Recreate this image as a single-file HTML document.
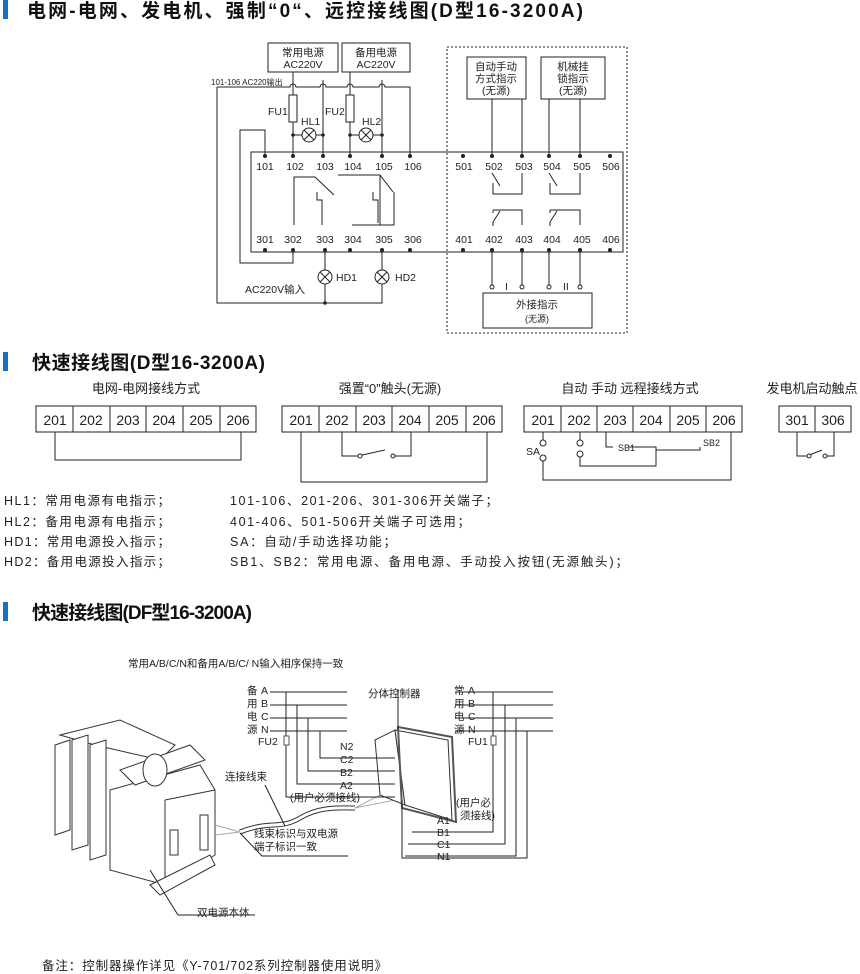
<!DOCTYPE html>
<html><head><meta charset="utf-8"><style>
html,body{margin:0;padding:0;background:#fff}
svg{display:block}
text{font-family:"Liberation Sans","Noto Sans CJK SC",sans-serif;fill:#222}
.h{font-size:19px;font-weight:bold;fill:#111}
.s{font-size:10.5px}
.m{font-size:13px}
.n{font-size:14px}
.l{stroke:#222;stroke-width:1;fill:none}
</style></head><body>
<svg width="860" height="974" viewBox="0 0 860 974" xmlns="http://www.w3.org/2000/svg">
<rect x="3" y="0" width="5" height="19" fill="#1a6fc0"/>
<text class="h" x="27" y="17" textLength="556" lengthAdjust="spacing">电网-电网、发电机、强制“0“、远控接线图(D型16-3200A)</text>

<g class="l">
<rect x="268" y="43" width="70" height="29"/>
<rect x="342" y="43" width="68" height="29"/>
<rect x="251" y="152" width="372" height="100"/>
<rect x="447" y="47" width="180" height="286" stroke-dasharray="2,2"/>
<rect x="467" y="57" width="59" height="42" fill="#fff"/>
<rect x="541" y="57" width="64" height="42" fill="#fff"/>
<rect x="483" y="293" width="109" height="35" fill="#fff"/>
<path d="M217 87 H290 a3 3 0 0 1 6 0 H320 a3 3 0 0 1 6 0 H347 a3 3 0 0 1 6 0 H379 a3 3 0 0 1 6 0 H410 V156"/>
<path d="M217 87 V303 H382 V284"/>
<path d="M325 303 V284"/>
<path d="M265 156 V130 H240 V263 H293 V250"/>
<path d="M293 72 V95 M293 122 V156 M323 80 V156 M350 72 V95 M350 122 V156 M382 80 V156"/>
<rect x="289" y="95" width="8" height="27" fill="#fff"/>
<rect x="346" y="95" width="8" height="27" fill="#fff"/>
<path d="M293 135 H302 M316 135 H323 M350 135 H359 M373 135 H382"/>
<circle cx="309" cy="135" r="7" fill="#fff"/><path d="M304 130 L314 140 M314 130 L304 140"/>
<circle cx="366" cy="135" r="7" fill="#fff"/><path d="M361 130 L371 140 M371 130 L361 140"/>
<path d="M325 250 V270 M382 250 V270"/>
<circle cx="325" cy="277" r="7" fill="#fff"/><path d="M320 272 L330 282 M330 272 L320 282"/>
<circle cx="382" cy="277" r="7" fill="#fff"/><path d="M377 272 L387 282 M387 272 L377 282"/>
<path d="M294 225 V177 H315 L334 195 M338 175 H380 L393 192 M317 192 V200 H322 V225 M373 192 V200 H378 V223 M352 225 H394 V192 M380 175 V225"/>
<path d="M492 99 V156 M522 99 V156 M549 99 V156 M580 99 V156"/>
<path d="M492 173 L500 186 M493 183 V194 H522 V173 M549 173 L557 186 M550 183 V194 H580 V173"/>
<path d="M493 210 H522 V225 M493 210 V213 M493 222 L500 211 M493 222 V226 M550 210 H580 V225 M550 210 V213 M550 222 L557 211 M550 222 V226"/>
<path d="M492 250 V285 M522 250 V285 M549 250 V285 M580 250 V285"/>
</g>
<g fill="#fff" stroke="#222"><circle cx="492" cy="287" r="2"/><circle cx="522" cy="287" r="2"/><circle cx="549" cy="287" r="2"/><circle cx="580" cy="287" r="2"/></g>
<text class="s" x="505" y="290">I</text><text class="s" x="563" y="290">II</text>
<g fill="#222">
<circle cx="265" cy="156" r="2"/><circle cx="293" cy="156" r="2"/><circle cx="323" cy="156" r="2"/><circle cx="350" cy="156" r="2"/><circle cx="382" cy="156" r="2"/><circle cx="410" cy="156" r="2"/>
<circle cx="463" cy="156" r="2"/><circle cx="492" cy="156" r="2"/><circle cx="522" cy="156" r="2"/><circle cx="549" cy="156" r="2"/><circle cx="580" cy="156" r="2"/><circle cx="610" cy="156" r="2"/>
<circle cx="265" cy="250" r="2"/><circle cx="293" cy="250" r="2"/><circle cx="325" cy="250" r="2"/><circle cx="350" cy="250" r="2"/><circle cx="382" cy="250" r="2"/><circle cx="410" cy="250" r="2"/>
<circle cx="463" cy="250" r="2"/><circle cx="492" cy="250" r="2"/><circle cx="522" cy="250" r="2"/><circle cx="549" cy="250" r="2"/><circle cx="580" cy="250" r="2"/><circle cx="610" cy="250" r="2"/>
<circle cx="293" cy="135" r="1.8"/><circle cx="323" cy="135" r="1.8"/><circle cx="350" cy="135" r="1.8"/><circle cx="382" cy="135" r="1.8"/><circle cx="325" cy="303" r="1.8"/>
</g>
<g class="s" text-anchor="middle">
<text x="265" y="170">101</text><text x="295" y="170">102</text><text x="325" y="170">103</text><text x="353" y="170">104</text><text x="384" y="170">105</text><text x="413" y="170">106</text>
<text x="464" y="170">501</text><text x="494" y="170">502</text><text x="524" y="170">503</text><text x="552" y="170">504</text><text x="582" y="170">505</text><text x="611" y="170">506</text>
<text x="265" y="243">301</text><text x="293" y="243">302</text><text x="325" y="243">303</text><text x="353" y="243">304</text><text x="384" y="243">305</text><text x="413" y="243">306</text>
<text x="464" y="243">401</text><text x="494" y="243">402</text><text x="524" y="243">403</text><text x="552" y="243">404</text><text x="582" y="243">405</text><text x="611" y="243">406</text>
<text x="303" y="56">常用电源</text><text x="303" y="68">AC220V</text>
<text x="376" y="56">备用电源</text><text x="376" y="68">AC220V</text>
<text x="496" y="70">自动手动</text><text x="496" y="82">方式指示</text><text x="496" y="94">(无源)</text>
<text x="573" y="70">机械挂</text><text x="573" y="82">锁指示</text><text x="573" y="94">(无源)</text>
<text x="537" y="308">外接指示</text><text x="537" y="322" style="font-size:9px">(无源)</text>
</g>
<text x="211" y="85" style="font-size:8px">101-106 AC220输出</text>
<text class="s" x="268" y="115">FU1</text><text class="s" x="325" y="115">FU2</text>
<text class="s" x="301" y="125">HL1</text><text class="s" x="362" y="125">HL2</text>
<text class="s" x="336" y="281">HD1</text><text class="s" x="395" y="281">HD2</text>
<text class="s" x="245" y="293">AC220V输入</text>

<rect x="3" y="352" width="5" height="19" fill="#1a6fc0"/>
<text class="h" x="32" y="369" textLength="233" lengthAdjust="spacing">快速接线图(D型16-3200A)</text>
<g class="m" text-anchor="middle">
<text x="146" y="393">电网-电网接线方式</text>
<text x="390" y="393">强置“0”触头(无源)</text>
<text x="630" y="393">自动 手动 远程接线方式</text>
<text x="812" y="393">发电机启动触点</text>
</g>
<g class="l">
<rect x="36" y="406" width="220" height="26"/><path d="M73 406V432M110 406V432M146 406V432M183 406V432M220 406V432"/>
<rect x="282" y="406" width="220" height="26"/><path d="M319 406V432M356 406V432M392 406V432M429 406V432M466 406V432"/>
<rect x="524" y="406" width="218" height="26"/><path d="M561 406V432M597 406V432M633 406V432M670 406V432M706 406V432"/>
<rect x="779" y="406" width="72" height="26"/><path d="M815 406V432"/>
<path d="M55 432V460H241V432"/>
<path d="M301 432V482H487V432"/>
<path d="M342 432V456H358 L385 450 M395 456H411V432"/>
<path d="M543 432V440 M543 461V480H731V432"/>
<path d="M580 432V440 M580 456V466H656V450H700V447 M606 432V447H613 M629 447H656V450"/>
<path d="M797 432V456H807 L822 450 M827 456H834V432"/>
</g>
<g fill="#fff" stroke="#222"><circle cx="360" cy="456" r="2"/><circle cx="393" cy="456" r="2"/><circle cx="809" cy="456" r="2"/><circle cx="825" cy="456" r="2"/>
<circle cx="543" cy="443" r="3"/><circle cx="543" cy="458" r="3"/><circle cx="580" cy="443" r="3"/><circle cx="580" cy="454" r="3"/></g>
<text class="s" x="526" y="455">SA</text><text class="s" x="618" y="451" style="font-size:9px">SB1</text><text class="s" x="703" y="446" style="font-size:9px">SB2</text>
<g class="n" text-anchor="middle">
<text x="55" y="425">201</text><text x="91" y="425">202</text><text x="128" y="425">203</text><text x="164" y="425">204</text><text x="201" y="425">205</text><text x="238" y="425">206</text>
<text x="301" y="425">201</text><text x="337" y="425">202</text><text x="374" y="425">203</text><text x="410" y="425">204</text><text x="447" y="425">205</text><text x="484" y="425">206</text>
<text x="543" y="425">201</text><text x="579" y="425">202</text><text x="615" y="425">203</text><text x="651" y="425">204</text><text x="688" y="425">205</text><text x="724" y="425">206</text>
<text x="797" y="425">301</text><text x="833" y="425">306</text>
</g>
<g style="font-size:12.5px">
<text x="4" y="505" textLength="166" lengthAdjust="spacing">HL1：常用电源有电指示；</text>
<text x="4" y="526" textLength="166" lengthAdjust="spacing">HL2：备用电源有电指示；</text>
<text x="4" y="546" textLength="166" lengthAdjust="spacing">HD1：常用电源投入指示；</text>
<text x="4" y="566" textLength="166" lengthAdjust="spacing">HD2：备用电源投入指示；</text>
<text x="230" y="505" textLength="268" lengthAdjust="spacing">101-106、201-206、301-306开关端子；</text>
<text x="230" y="526" textLength="240" lengthAdjust="spacing">401-406、501-506开关端子可选用；</text>
<text x="230" y="546" textLength="166" lengthAdjust="spacing">SA：自动/手动选择功能；</text>
<text x="230" y="566" textLength="398" lengthAdjust="spacing">SB1、SB2：常用电源、备用电源、手动投入按钮(无源触头)；</text>
</g>

<rect x="3" y="602" width="5" height="19" fill="#1a6fc0"/>
<text class="h" x="32" y="619" textLength="220" lengthAdjust="spacing">快速接线图(DF型16-3200A)</text>
<text class="s" x="128" y="667">常用A/B/C/N和备用A/B/C/ N输入相序保持一致</text>

<g stroke="#333" fill="#fff" stroke-width="1">
<path d="M60 735 L120 720 L175 745 L160 760 L95 745 Z"/>
<path d="M55 745 L70 740 L70 830 L55 835 Z"/>
<path d="M72 740 L88 735 L88 845 L72 850 Z"/>
<path d="M90 745 L106 740 L106 855 L90 860 Z"/>
<path d="M110 790 L200 765 L215 790 L215 855 L165 885 L110 870 Z"/>
<path d="M165 800 L215 790 M165 800 V885"/>
<path d="M120 770 L190 745 L205 760 L135 785 Z"/>
<ellipse cx="155" cy="770" rx="12" ry="16"/>
<rect x="200" y="815" width="8" height="35"/>
<rect x="170" y="830" width="8" height="25"/>
<path d="M150 885 L210 855 L215 865 L160 895 Z"/>
</g>
<path d="M240 832 C270 820 280 830 300 818 C320 806 340 808 355 808" stroke="#333" stroke-width="5" fill="none"/>
<path d="M240 832 C270 820 280 830 300 818 C320 806 340 808 355 808" stroke="#fff" stroke-width="3" fill="none"/>
<path d="M215 825 L240 832 M215 835 L240 832 M355 808 L390 790 M355 808 L395 800" stroke="#aaa" fill="none"/>
<g stroke="#333" fill="#fff">
<path d="M375 740 L395 730 L405 805 L380 795 Z"/>
<path d="M395 730 L448 740 L452 820 L405 805 Z"/>
<path d="M398 727 L452 737 L456 822 L402 808 Z" fill="none" stroke-width="2" stroke="#555"/>
</g>
<g class="l">
<path d="M270 692H347 M270 705H347 M270 718H347 M270 731H347"/>
<path d="M286 692V797H395 M297 705V784H395 M308 718V771H395 M320 731V758H395"/>
<path d="M455 692H553 M455 705H553 M455 718H553 M455 731H553"/>
<path d="M493 692V832H412 M505 705V844H408 M516 718V856H405 M527 731V858H402V800"/>
<path d="M398 690 V730"/>
<path d="M240 833 L262 856H348"/>
<path d="M265 785 L285 826"/>
<path d="M150 870 L178 915H255"/>
</g>
<rect x="284" y="736" width="5" height="9" fill="#fff" stroke="#555"/>
<rect x="491" y="736" width="5" height="9" fill="#fff" stroke="#555"/>
<g class="s">
<text x="247" y="694">备</text><text x="247" y="707">用</text><text x="247" y="720">电</text><text x="247" y="733">源</text>
<text x="261" y="694">A</text><text x="261" y="707">B</text><text x="261" y="720">C</text><text x="261" y="733">N</text>
<text x="454" y="694">常</text><text x="454" y="707">用</text><text x="454" y="720">电</text><text x="454" y="733">源</text>
<text x="468" y="694">A</text><text x="468" y="707">B</text><text x="468" y="720">C</text><text x="468" y="733">N</text>
<text x="258" y="745">FU2</text><text x="468" y="745">FU1</text>
<text x="340" y="750">N2</text><text x="340" y="763">C2</text><text x="340" y="776">B2</text><text x="340" y="789">A2</text>
<text x="290" y="801">(用户必须接线)</text>
<text x="368" y="697">分体控制器</text>
<text x="225" y="780">连接线束</text>
<text x="254" y="837">线束标识与双电源</text><text x="254" y="850">端子标识一致</text>
<text x="456" y="806">(用户必</text><text x="460" y="819">须接线)</text>
<text x="437" y="824">A1</text><text x="437" y="836">B1</text><text x="437" y="848">C1</text><text x="437" y="860">N1</text>
<text x="197" y="916">双电源本体</text>
</g>
<text x="42" y="970" style="font-size:12.5px" textLength="345" lengthAdjust="spacing">备注：控制器操作详见《Y-701/702系列控制器使用说明》</text>
</svg>
</body></html>
